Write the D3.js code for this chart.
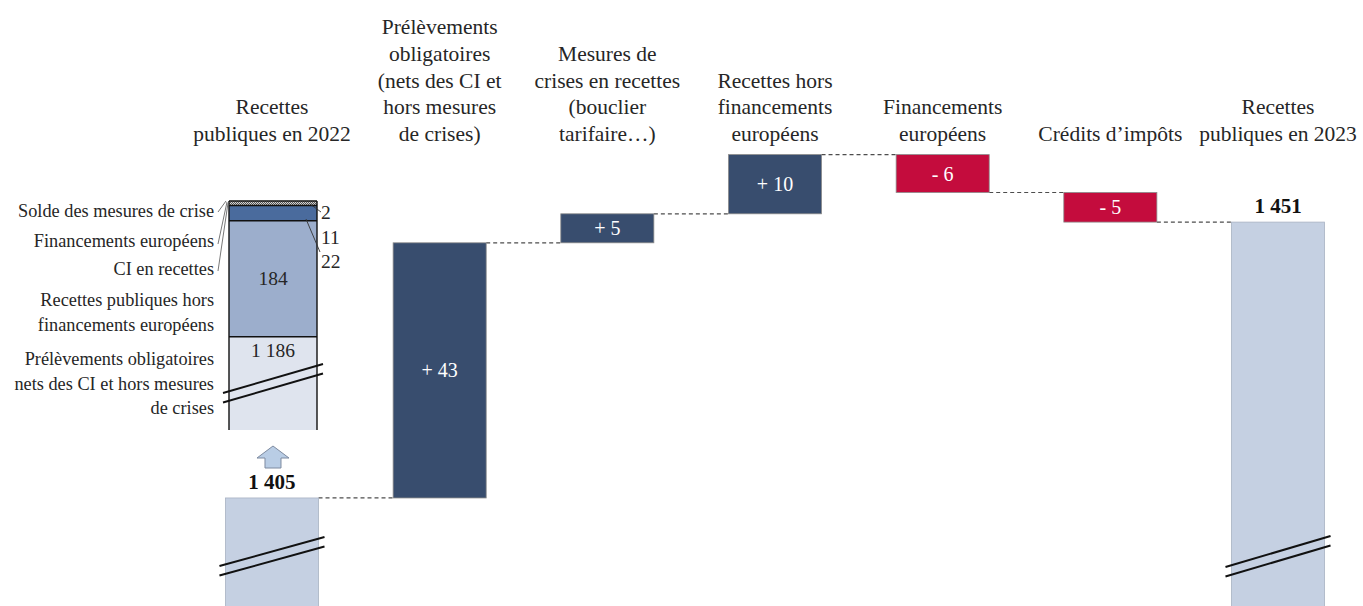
<!DOCTYPE html>
<html>
<head>
<meta charset="utf-8">
<script src="https://cdn.jsdelivr.net/npm/d3@7"></script>
<style>
  body { margin: 0; background: #fff; }
  svg { display: block; }
  svg text { font-family: "Liberation Serif", "Times New Roman", Times, "DejaVu Serif", serif; }
</style>
</head>
<body>
<svg id="chart" width="1363" height="606"></svg>
<script>
// données (Md€)
var headerLines = [
    ["Recettes", "publiques en 2022"],
    ["Prélèvements", "obligatoires", "(nets des CI et", "hors mesures", "de crises)"],
    ["Mesures de", "crises en recettes", "(bouclier", "tarifaire…)"],
    ["Recettes hors", "financements", "européens"],
    ["Financements", "européens"],
    ["Crédits d’impôts"],
    ["Recettes", "publiques en 2023"]
];
var startValue = 1404.6;
var deltas = [43.1, 4.9, 10.0, -6.4, -5.0];

// décomposition 2022 (encart)
var insetValues = [2, 11, 184, 1186];           // du haut vers le bas
var insetInnerLabels = ["", "", "184", "1 186"];
var insetSideValues = [2, 11, 22];
var insetLegend = [
    ["Solde des mesures de crise"],
    ["Financements européens"],
    ["CI en recettes"],
    ["Recettes publiques hors", "financements européens"],
    ["Prélèvements obligatoires", "nets des CI et hors mesures", "de crises"]
];

var COLORS = {
    total: "#c5d0e2",
    up: "#384d6e",
    down: "#c40c3d",
    text: "#262626",
    inset: ["#hatch", "#4a6b9d", "#9caecc", "#dfe4ee"]
};

var FONT = "'Liberation Serif', 'Times New Roman', Times, 'DejaVu Serif', serif";

var fmt = d3.formatLocale({ decimal: ",", thousands: " ", grouping: [3], currency: ["", "€"] }).format(",d");

var svg = d3.select("#chart").attr("font-family", FONT);
var defs = svg.append("defs");

// motif hachuré
var pat = defs.append("pattern")
    .attr("id", "hatch")
    .attr("width", 2).attr("height", 2)
    .attr("patternUnits", "userSpaceOnUse");
pat.append("rect").attr("width", 2).attr("height", 2).attr("fill", "#d6d6d6");
pat.append("rect").attr("width", 1).attr("height", 1).attr("fill", "#555");
pat.append("rect").attr("x", 1).attr("y", 1).attr("width", 1).attr("height", 1).attr("fill", "#555");

// lignes du waterfall
var rows = [];
var running = startValue;
rows.push({ kind: "total", v0: null, v1: startValue });
deltas.forEach(function (d) {
    rows.push({ kind: d >= 0 ? "up" : "down", v0: running, v1: running + d, d: d });
    running += d;
});
rows.push({ kind: "total", v0: null, v1: running });
rows.forEach(function (r, i) { r.i = i; r.end = r.v1; });

var x = d3.scaleBand()
    .domain(d3.range(rows.length))
    .range([188.15, 1361.85])
    .paddingInner(0.445)
    .paddingOuter(0.2225);

var y = d3.scaleLinear()
    .domain([1380, 1470])
    .range([643.6, 110.8]);

var bw = x.bandwidth();

// connecteurs pointillés
var linkLayout = svg.append("g").attr("class", "link-layout");
for (var i = 0; i < rows.length - 1; i++) {
    linkLayout.append("line")
        .attr("x1", x(i) + bw)
        .attr("x2", x(i + 1))
        .attr("y1", y(rows[i].end))
        .attr("y2", y(rows[i].end))
        .attr("stroke", "#4d4d4d")
        .attr("stroke-width", 1.2)
        .attr("stroke-dasharray", "4,3");
}

// barres
var barLayout = svg.append("g").attr("class", "bar-layout");
barLayout.selectAll("rect")
    .data(rows)
    .enter().append("rect")
    .attr("x", function (d) { return x(d.i); })
    .attr("width", bw)
    .attr("y", function (d) { return d.kind === "total" ? y(d.v1) : y(Math.max(d.v0, d.v1)); })
    .attr("height", function (d) {
        return d.kind === "total" ? y.range()[0] - y(d.v1) : Math.abs(y(d.v0) - y(d.v1));
    })
    .attr("fill", function (d) { return COLORS[d.kind]; })
    .attr("stroke", function (d) { return d.kind === "total" ? "#a9b2c3" : "#8a8a8a"; })
    .attr("stroke-width", 0.8);

// étiquettes de valeurs
var textLayout = svg.append("g").attr("class", "text-layout");
rows.forEach(function (d) {
    if (d.kind === "total") {
        textLayout.append("text")
            .attr("x", x(d.i) + bw / 2)
            .attr("y", y(d.v1) - 9)
            .attr("text-anchor", "middle")
            .attr("font-size", 21)
            .attr("font-weight", "bold")
            .attr("fill", "#111")
            .text(fmt(Math.round(d.v1)));
    } else {
        textLayout.append("text")
            .attr("x", x(d.i) + bw / 2)
            .attr("y", (y(d.v0) + y(d.v1)) / 2 + 7)
            .attr("text-anchor", "middle")
            .attr("font-size", 20)
            .attr("fill", "#fff")
            .text((d.d >= 0 ? "+ " : "- ") + Math.abs(Math.round(d.d)));
    }
});

// titres de colonnes (alignés en bas)
var headLayout = svg.append("g").attr("class", "head-layout");
var lineH = 26.7, lastBase = 141;
headerLines.forEach(function (lines, i) {
    var t = headLayout.append("text")
        .attr("text-anchor", "middle")
        .attr("font-size", 21.5)
        .attr("fill", COLORS.text);
    lines.forEach(function (s, k) {
        t.append("tspan")
            .attr("x", x(i) + bw / 2)
            .attr("y", lastBase - (lines.length - 1 - k) * lineH)
            .text(s);
    });
});

// traits de rupture
function breakMark(g, x1, x2, yl, yr) {
    [0, 9.5].forEach(function (off) {
        g.append("line")
            .attr("x1", x1).attr("y1", yl + off)
            .attr("x2", x2).attr("y2", yr + off)
            .attr("stroke", "#111").attr("stroke-width", 2);
    });
}
var brk = svg.append("g").attr("class", "break-layout");
breakMark(brk, x(0) - 6, x(0) + bw + 6, 566, 537);
breakMark(brk, x(6) - 6, x(6) + bw + 6, 567, 536);

// flèche vers l'encart
var ax = x(0) + bw / 2 + 1;
svg.append("path")
    .attr("d", "M" + ax + ",446 L" + (ax + 16) + ",458 L" + (ax + 8) + ",458 L" + (ax + 8) + ",468 L" +
        (ax - 8) + ",468 L" + (ax - 8) + ",458 L" + (ax - 16) + ",458 Z")
    .attr("fill", "#b9cde5")
    .attr("stroke", "#7d8aa0")
    .attr("stroke-width", 1);

// encart : décomposition des recettes 2022
var inset = svg.append("g").attr("class", "inset-layout");
var insetLeft = 229, insetRight = 317, insetTop = 201, insetBottom = 430;
var ih = d3.scalePow().exponent(0.72).domain([0, 184]).range([0, 116]);
var yy = insetTop, bands = [];
insetValues.forEach(function (v, k) {
    var h = Math.min(ih(v), insetBottom - yy);
    bands.push({ y0: yy, y1: yy + h, v: v, k: k });
    yy += h;
});
inset.selectAll("rect")
    .data(bands)
    .enter().append("rect")
    .attr("x", insetLeft)
    .attr("width", insetRight - insetLeft)
    .attr("y", function (d) { return d.y0; })
    .attr("height", function (d) { return d.y1 - d.y0; })
    .attr("fill", function (d) { return d.k === 0 ? "url(#hatch)" : COLORS.inset[d.k]; });
bands.forEach(function (d) {
    inset.append("line")
        .attr("x1", insetLeft).attr("x2", insetRight)
        .attr("y1", d.y0).attr("y2", d.y0)
        .attr("stroke", "#111").attr("stroke-width", 1.4);
});
[insetLeft, insetRight].forEach(function (xx) {
    inset.append("line")
        .attr("x1", xx).attr("x2", xx)
        .attr("y1", insetTop).attr("y2", insetBottom)
        .attr("stroke", "#111").attr("stroke-width", 1.4);
});
bands.forEach(function (d) {
    if (!insetInnerLabels[d.k]) return;
    inset.append("text")
        .attr("x", (insetLeft + insetRight) / 2)
        .attr("y", d.k === 2 ? (d.y0 + d.y1) / 2 + 6 : d.y0 + 20)
        .attr("text-anchor", "middle")
        .attr("font-size", 19.5)
        .attr("fill", COLORS.text)
        .text(insetInnerLabels[d.k]);
});
breakMark(inset, insetLeft - 6, insetRight + 6, 393, 364);

// étiquettes à droite de l'encart
var sideY = [219, 244, 268];
insetSideValues.forEach(function (v, k) {
    inset.append("text")
        .attr("x", insetRight + 4)
        .attr("y", sideY[k])
        .attr("font-size", 19.5)
        .attr("fill", COLORS.text)
        .text(v);
});
inset.append("line").attr("x1", 310).attr("y1", 204).attr("x2", 321).attr("y2", 212)
    .attr("stroke", "#333").attr("stroke-width", 0.9);
inset.append("line").attr("x1", 306).attr("y1", 219).attr("x2", 320).attr("y2", 252)
    .attr("stroke", "#333").attr("stroke-width", 0.9);

// légende à gauche de l'encart
var legendBase = [217, 247, 275, 306, 365];
var legendLH = 24.5;
insetLegend.forEach(function (lines, k) {
    var t = inset.append("text")
        .attr("text-anchor", "end")
        .attr("font-size", 18.3)
        .attr("fill", COLORS.text);
    lines.forEach(function (s, j) {
        t.append("tspan")
            .attr("x", 214)
            .attr("y", legendBase[k] + j * legendLH)
            .text(s);
    });
});
// traits de rappel vers le haut de l'encart
[[218, 212, 226, 201], [218, 244, 227, 202], [218, 271, 228, 203]].forEach(function (p) {
    inset.append("line")
        .attr("x1", p[0]).attr("y1", p[1]).attr("x2", p[2]).attr("y2", p[3])
        .attr("stroke", "#555").attr("stroke-width", 0.8);
});
</script>
</body>
</html>
